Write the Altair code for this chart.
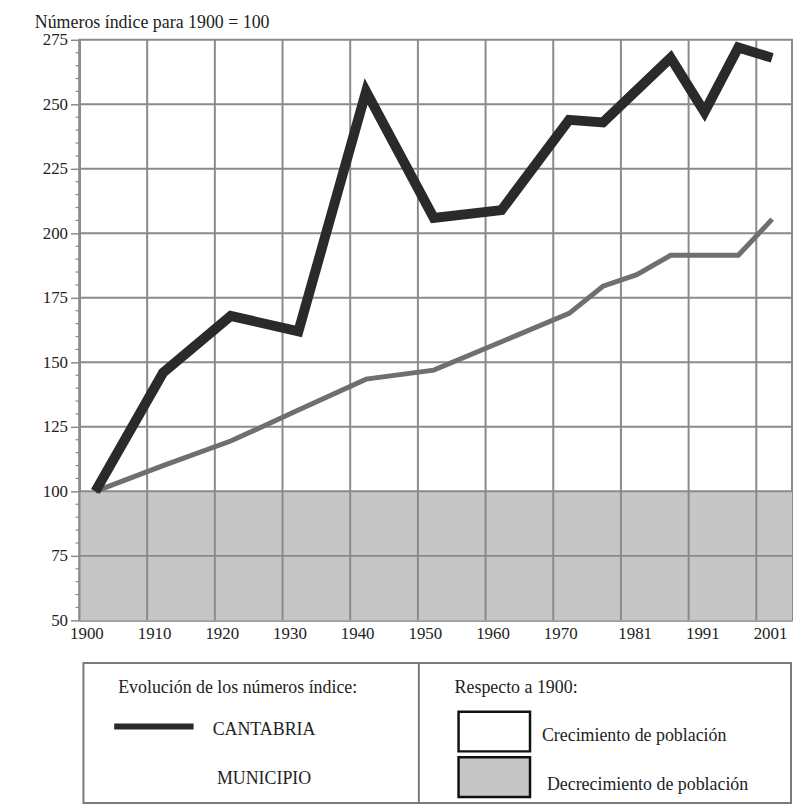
import altair as alt
import pandas as pd

# ---- data ----
years_cant = [1900, 1910, 1920, 1930, 1940, 1950, 1960, 1970, 1975, 1985, 1990, 1995, 2000]
cantabria = [100, 146, 168, 162, 255, 206, 209, 244, 243, 268, 247, 272, 268]
years_mun = [1900, 1910, 1920, 1930, 1940, 1950, 1960, 1970, 1975, 1980, 1985, 1995, 2000]
municipio = [100, 110, 119.5, 131.5, 143.5, 147, 158, 169, 179.5, 184, 191.5, 191.5, 205.5]
x_labels = [1900, 1910, 1920, 1930, 1940, 1950, 1960, 1970, 1981, 1991, 2001]
grid_years = [1900, 1910, 1920, 1930, 1940, 1950, 1960, 1970, 1980, 1990, 2000]
y_grid = [75, 100, 125, 150, 175, 200, 225, 250]
y_major = [50, 75, 100, 125, 150, 175, 200, 225, 250, 275]
y_minor = [v for v in range(50, 276, 5) if v % 25 != 0]
decrease_band = [50, 100]
x_domain = [1897.65, 2002.93]
y_domain = [50, 275]

title_text = "Números índice para 1900 = 100"
legend_left_title = "Evolución de los números índice:"
legend_right_title = "Respecto a 1900:"
series_names = ["CANTABRIA", "MUNICIPIO"]
area_names = ["Crecimiento de población", "Decrecimiento de población"]

W, H = 718, 585
FONT = "Liberation Serif"
GRID = "#8a8a8a"
TXT = "#222222"

xs = alt.Scale(domain=x_domain, nice=False, zero=False)
ys = alt.Scale(domain=y_domain, nice=False, zero=False)

one = pd.DataFrame({"k": [0]})

# legend frame (below the plot)
legend_frame = alt.Chart(one).mark_rect(fill="white", stroke="#7a7a7a", strokeWidth=2).encode(
    x=alt.value(4), x2=alt.value(717), y=alt.value(628), y2=alt.value(769))
legend_divider = alt.Chart(one).mark_rule(color="#7a7a7a", strokeWidth=2).encode(
    x=alt.value(342), y=alt.value(628), y2=alt.value(769))

# grey "decrease" band
band = alt.Chart(pd.DataFrame({"lo": [decrease_band[0]], "hi": [decrease_band[1]]})).mark_rect(
    color="#c6c6c6").encode(
    x=alt.value(0), x2=alt.value(W),
    y=alt.Y("lo:Q", scale=ys, title=None,
            axis=alt.Axis(values=y_major, format="d", grid=False, tickSize=9,
                          labelPadding=3, orient="left")),
    y2="hi:Q")

# minor ticks on the y axis
minor = alt.Chart(pd.DataFrame({"value": y_minor})).mark_rule(
    color=GRID, strokeWidth=1.2).encode(
    x=alt.value(-4), x2=alt.value(0),
    y=alt.Y("value:Q", scale=ys))

vgrid = alt.Chart(pd.DataFrame({"year": grid_years})).mark_rule(
    color=GRID, strokeWidth=2, xOffset=-16).encode(
    x=alt.X("year:Q", scale=xs, title=None,
            axis=alt.Axis(values=x_labels, format="d", ticks=False, grid=False,
                          labelOffset=-9, labelPadding=5, orient="bottom")))
hgrid = alt.Chart(pd.DataFrame({"value": y_grid})).mark_rule(
    color=GRID, strokeWidth=2).encode(
    y=alt.Y("value:Q", scale=ys))

df_mun = pd.DataFrame({"year": years_mun, "value": municipio})
df_cant = pd.DataFrame({"year": years_cant, "value": cantabria})

mun_line = alt.Chart(df_mun).mark_line(color="#6f6f6f", strokeWidth=5).encode(
    x=alt.X("year:Q", scale=xs),
    y=alt.Y("value:Q", scale=ys))

cant_line = alt.Chart(df_cant).mark_line(color="#2a2a2a", strokeWidth=10).encode(
    x=alt.X("year:Q", scale=xs),
    y=alt.Y("value:Q", scale=ys))


def txt(text, x, y, size=18, align="left"):
    return alt.Chart(one).mark_text(text=text, align=align, baseline="middle",
                                    font=FONT, fontSize=size, color=TXT).encode(
        x=alt.value(x), y=alt.value(y))


title = txt(title_text, -45, -17, size=18)

legend_items = [
    txt(legend_left_title, 39, 653),
    alt.Chart(one).mark_rule(color="#2a2a2a", strokeWidth=6).encode(
        x=alt.value(35), x2=alt.value(115), y=alt.value(692)),
    txt(series_names[0], 186, 696, align="center"),
    txt(series_names[1], 186, 745, align="center"),
    txt(legend_right_title, 378, 653),
    alt.Chart(one).mark_rect(fill="white", stroke="#111111", strokeWidth=2.5).encode(
        x=alt.value(382), x2=alt.value(454), y=alt.value(677), y2=alt.value(717)),
    alt.Chart(one).mark_rect(fill="#c6c6c6", stroke="#111111", strokeWidth=2.5).encode(
        x=alt.value(382), x2=alt.value(454), y=alt.value(723), y2=alt.value(763)),
    txt(area_names[0], 466, 702),
    txt(area_names[1], 471, 751),
]

chart = alt.layer(
    legend_frame, legend_divider, band, minor, vgrid, hgrid, mun_line, cant_line, title,
    *legend_items
).properties(
    width=W, height=H,
    background="white",
    autosize=alt.AutoSizeParams(type="none"),
    padding={"left": 72, "top": 29, "right": 1, "bottom": 186},
).configure_view(
    stroke=GRID, strokeWidth=2
).configure_axis(
    labelFont=FONT, labelFontSize=17, labelColor=TXT,
    labelFlush=False, labelOverlap=False,
    domainColor=GRID, domainWidth=2, tickColor=GRID, tickWidth=1.5,
    zindex=0
)

chart.save("out.html", embed_options={"renderer": "svg", "actions": False})
